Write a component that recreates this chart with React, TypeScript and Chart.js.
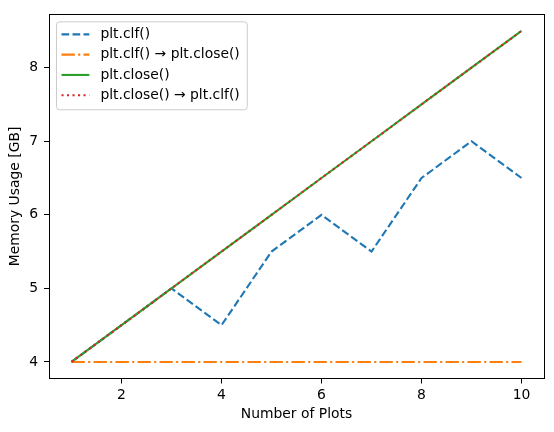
import React, { useEffect, useRef } from "react";
import { Chart, registerables } from "chart.js";
import type { Plugin } from "chart.js";

Chart.register(...registerables);

const plotCounts = [1, 2, 3, 4, 5, 6, 7, 8, 9, 10];
const clfOnly = [4, 4.5, 5, 4.5, 5.5, 6, 5.5, 6.5, 7, 6.5];
const clfThenClose = [4, 4, 4, 4, 4, 4, 4, 4, 4, 4];
const closeOnly = [4, 4.5, 5, 5.5, 6, 6.5, 7, 7.5, 8, 8.5];
const closeThenClf = [4, 4.5, 5, 5.5, 6, 6.5, 7, 7.5, 8, 8.5];

const xTicks = [2, 4, 6, 8, 10];
const yTicks = [4, 5, 6, 7, 8];

const FONT = '"DejaVu Sans", sans-serif';
const FS = 13.9;

const pts = (ys: number[]) => ys.map((y, i) => ({ x: plotCounts[i], y }));

// box around the plot area (matplotlib spines)
const frame: Plugin = {
  id: "frame",
  afterDraw(chart) {
    const { left, top, right, bottom } = chart.chartArea;
    const ctx = chart.ctx;
    ctx.save();
    ctx.strokeStyle = "#000";
    ctx.lineWidth = 1;
    ctx.strokeRect(Math.round(left) + 0.5, Math.round(top) + 0.5, Math.round(right - left), Math.round(bottom - top));
    ctx.restore();
  },
};

// legend drawn inside the axes, upper left
const insideLegend: Plugin = {
  id: "insideLegend",
  afterDraw(chart) {
    const ctx = chart.ctx;
    const { left, top } = chart.chartArea;
    const sets = chart.data.datasets as any[];
    ctx.save();
    ctx.font = `${FS}px ${FONT}`;
    const textW = Math.max(...sets.map((d) => ctx.measureText(d.label).width));
    const x0 = left + 7;
    const y0 = top + 7;
    const lineX = x0 + 5.5;
    const lineLen = 27.8;
    const textX = lineX + lineLen + 11.1;
    const w = textX + textW + 7 - x0;
    const rowH = 20.3;
    const h = 13 + rowH * (sets.length - 1) + 14;

    ctx.beginPath();
    ctx.roundRect(x0 + 0.5, y0 + 0.5, w, h, 3);
    ctx.fillStyle = "rgba(255,255,255,0.8)";
    ctx.fill();
    ctx.strokeStyle = "#cccccc";
    ctx.lineWidth = 1;
    ctx.stroke();

    sets.forEach((d, i) => {
      const y = y0 + 13 + rowH * i;
      ctx.beginPath();
      ctx.setLineDash(d.borderDash || []);
      ctx.strokeStyle = d.borderColor;
      ctx.lineWidth = d.borderWidth;
      ctx.moveTo(lineX, y);
      ctx.lineTo(lineX + lineLen, y);
      ctx.stroke();
      ctx.setLineDash([]);
      ctx.fillStyle = "#000";
      ctx.textBaseline = "middle";
      ctx.textAlign = "left";
      ctx.fillText(d.label, textX, y);
    });
    ctx.restore();
  },
};

export default function App(): React.ReactElement {
  const canvasRef = useRef<HTMLCanvasElement | null>(null);

  useEffect(() => {
    if (!canvasRef.current) return;
    const chart = new Chart(canvasRef.current, {
      type: "line",
      data: {
        datasets: [
          {
            label: "plt.clf()",
            data: pts(clfOnly),
            borderColor: "#1f77b4",
            borderDash: [7.7, 3.3],
            borderWidth: 2.1,
            order: 4,
          },
          {
            label: "plt.clf() → plt.close()",
            data: pts(clfThenClose),
            borderColor: "#ff7f0e",
            borderDash: [13.3, 3.3, 2.1, 3.3],
            borderWidth: 2.1,
            order: 3,
          },
          {
            label: "plt.close()",
            data: pts(closeOnly),
            borderColor: "#2ca02c",
            borderWidth: 2.1,
            order: 2,
          },
          {
            label: "plt.close() → plt.clf()",
            data: pts(closeThenClf),
            borderColor: "#d62728",
            borderDash: [2.1, 3.4],
            borderWidth: 2.1,
            order: 1,
          },
        ],
      },
      options: {
        responsive: true,
        maintainAspectRatio: false,
        animation: false,
        parsing: false,
        layout: { padding: { top: 9, right: 10, left: 0, bottom: 0 } },
        elements: {
          point: { radius: 0, hoverRadius: 0 },
          line: { tension: 0, fill: false, borderCapStyle: "butt" },
        },
        plugins: {
          legend: { display: false },
          tooltip: { enabled: false },
        },
        scales: {
          x: {
            type: "linear",
            min: 0.55,
            max: 10.45,
            afterBuildTicks: (axis) => {
              axis.ticks = xTicks.map((v) => ({ value: v }));
            },
            afterFit: (axis) => {
              axis.height = 53.5;
            },
            grid: { drawOnChartArea: false, drawTicks: true, tickLength: 5, color: "#000", lineWidth: 1 },
            border: { display: true, color: "#000", width: 1 },
            ticks: {
              color: "#000",
              padding: 4,
              maxRotation: 0,
              font: { family: FONT, size: FS },
              callback: (v) => String(v),
            },
            title: {
              display: true,
              text: "Number of Plots",
              color: "#000",
              padding: { top: 4, bottom: 9.5 },
              font: { family: FONT, size: FS },
            },
          },
          y: {
            type: "linear",
            min: 3.775,
            max: 8.725,
            afterBuildTicks: (axis) => {
              axis.ticks = yTicks.map((v) => ({ value: v }));
            },
            afterFit: (axis) => {
              axis.width = 49;
            },
            grid: { drawOnChartArea: false, drawTicks: true, tickLength: 5, color: "#000", lineWidth: 1 },
            border: { display: true, color: "#000", width: 1 },
            ticks: {
              color: "#000",
              padding: 6,
              font: { family: FONT, size: FS },
              callback: (v) => String(v),
            },
            title: {
              display: true,
              text: "Memory Usage [GB]",
              color: "#000",
              padding: { top: 7, bottom: 0 },
              font: { family: FONT, size: FS },
            },
          },
        },
      },
      plugins: [frame, insideLegend],
    });
    return () => chart.destroy();
  }, []);

  return (
    <div style={{ position: "absolute", left: 0, top: 0, width: 554, height: 432, background: "#fff" }}>
      <canvas ref={canvasRef} />
    </div>
  );
}
